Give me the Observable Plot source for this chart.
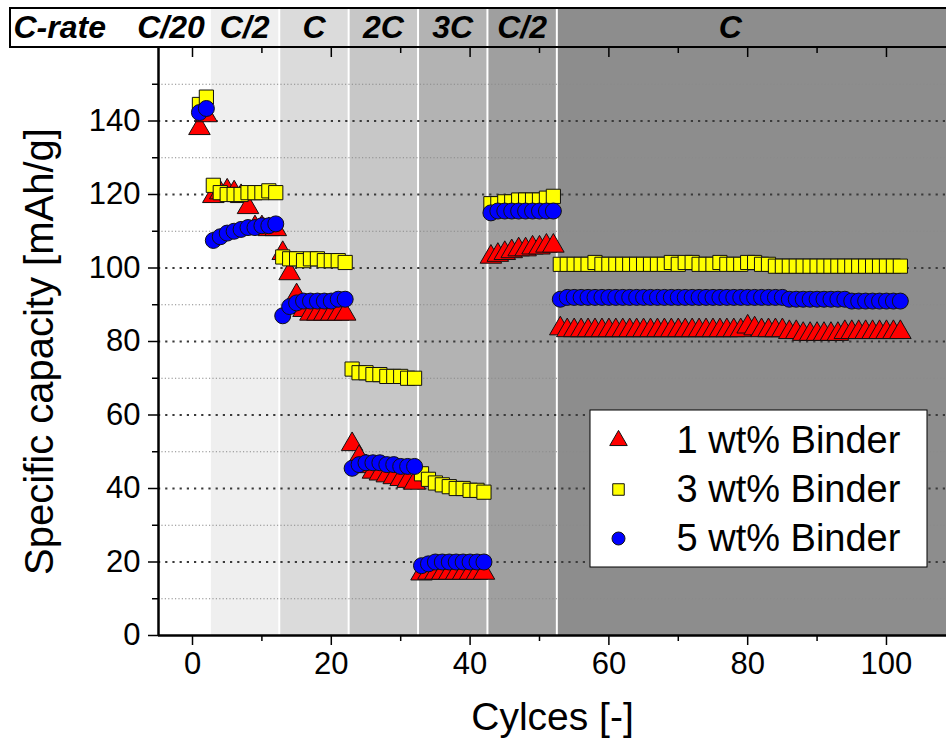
<!DOCTYPE html>
<html><head><meta charset="utf-8">
<script src="https://cdn.jsdelivr.net/npm/d3@7"></script>
<script src="https://cdn.jsdelivr.net/npm/@observablehq/plot@0.6"></script>
<style>
html,body{margin:0;padding:0;background:#fff;overflow:hidden;}
</style></head><body><div id="chart"></div>
<script>
// ---------- data ----------
const cycles = d3.range(1, 103);
const seriesNames = ["1 wt% Binder", "3 wt% Binder", "5 wt% Binder"];
const seriesColors = ["#ff0000", "#ffff00", "#0000ff"];
const seriesSymbols = ["triangle", "square", "circle"];

const binder1 = [
  138, 141.5,
  119.5, 120.5, 121, 120.5, 119.5, 116.5, 111, 111, 110.5, 110.5,
  104, 98.5, 92.5, 88.5, 87.5, 87.5, 87.5, 87.5, 87.5, 87.5,
  52, 48.5, 46, 44.5, 44, 43.5, 43, 42.5, 42, 41.5,
  16.8, 17, 17, 17, 17, 17, 17, 17, 17, 17,
  103, 103.5, 104, 104.5, 105, 105, 105.5, 105.5, 106, 106,
  83.5, 83, 83, 83, 83, 83, 83, 83, 83, 83,
  83, 83, 83, 83, 83, 83, 83, 83, 83, 83,
  83, 83, 83, 83, 83, 83, 83, 84, 83.5, 83,
  83, 83, 83, 82.5, 82.5, 82, 82, 82, 82, 82,
  82, 82.5, 82.5, 82.5, 82.5, 82.5, 82.5, 82.5, 82.5, 82.5
];
const binder3 = [
  144.5, 146.5,
  122.5, 120.5, 120, 120, 120, 120.5, 120.5, 120.5, 121, 120.5,
  103, 102.5, 102.5, 102, 102.5, 102.5, 102, 102, 102, 101.5,
  72.5, 71.5, 71.5, 71, 71, 70.5, 70.5, 70.5, 70, 70,
  44, 42.5, 41.5, 41, 40.5, 40, 40, 39.5, 39.5, 39,
  117.5, 117.5, 118, 118, 118.5, 118.5, 118.5, 118.5, 119, 119.5,
  101, 101, 101, 101, 101, 101.5, 101, 101, 101, 101,
  101, 101, 101, 101, 101, 101, 101.5, 101, 101.5, 101.5,
  101, 101, 101, 101.5, 101, 101, 101, 101.5, 101.5, 101,
  101, 100.5, 100.5, 100.5, 100.5, 100.5, 100.5, 100.5, 100.5, 100.5,
  100.5, 100.5, 100.5, 100.5, 100.5, 100.5, 100.5, 100.5, 100.5, 100.5
];
const binder5 = [
  142.3, 143.4,
  107.5, 108.5, 109.5, 110, 110.5, 111, 111, 111.5, 111.5, 112,
  87, 89.5, 90.5, 91, 91, 91, 91, 91, 91.5, 91.5,
  45.5, 46.5, 47, 47, 47, 46.5, 46.5, 46, 46, 46,
  19, 19.5, 20, 20, 20, 20, 20, 20, 20, 20,
  115, 115.5, 115.5, 115.5, 115.5, 115.5, 115.5, 115.5, 115.5, 115.5,
  91.5, 92, 92, 92, 92, 92, 92, 92, 92, 92,
  92, 92, 92, 92, 92, 92, 92, 92, 92, 92,
  92, 92, 92, 92, 92, 92, 92, 92, 92, 92,
  92, 92, 92, 91.5, 91.5, 91.5, 91.5, 91.5, 91.5, 91.5,
  91.5, 91.5, 91, 91, 91, 91, 91, 91, 91, 91
];
const seriesValues = [binder1, binder3, binder5];

const rateLabels = ["C/20", "C/2", "C", "2C", "3C", "C/2", "C"];
const rateFrom   = [0.5, 2.5, 12.5, 22.5, 32.5, 42.5, 52.5];
const rateTo     = [2.5, 12.5, 22.5, 32.5, 42.5, 52.5, 102.5];
const bandFill   = ["#ffffff", "#efefef", "#dbdbdb", "#c7c7c7", "#b3b3b3", "#9f9f9f", "#8d8d8d"];

const xTicksMajor = [0, 20, 40, 60, 80, 100];
const xTicksMinor = [10, 30, 50, 70, 90];
const yTicksMajor = [0, 20, 40, 60, 80, 100, 120, 140];
const yTicksMinor = [10, 30, 50, 70, 90, 110, 130, 150];

// ---------- layout ----------
const W = 946, H = 747;
const mL = 158, mR = 0, mT = 47, mB = 112;
const xDom = [-4.9, 108.65];
const yDom = [0, 160];
const ix = px => xDom[0] + (px - mL) * (xDom[1] - xDom[0]) / (W - mL - mR);
const iy = py => yDom[0] + (H - mB - py) * (yDom[1] - yDom[0]) / (H - mT - mB);
const headerTop = iy(8), headerLeft = ix(10);
const headerMid = (yDom[1] + headerTop) / 2;

const bands = rateLabels.map((label, i) => ({
  label,
  x1: i === 0 ? xDom[0] : rateFrom[i],
  x2: i === rateLabels.length - 1 ? xDom[1] + 5 : rateTo[i],
  hx1: i === 0 ? headerLeft : rateFrom[i],
  mid: (rateFrom[i] + rateTo[i]) / 2,
  fill: bandFill[i]
}));

const font = "'Liberation Sans', Arial, sans-serif";
const hdr = {fontSize: 32, fontWeight: "bold", fontStyle: "italic", fill: "black", lineAnchor: "middle"};
const marks = [];

// plot background bands
marks.push(Plot.rect(bands, {x1: "x1", x2: "x2", y1: yDom[0], y2: yDom[1], fill: "fill"}));
// header bands
marks.push(Plot.rect(bands, {x1: "hx1", x2: "x2", y1: yDom[1], y2: headerTop, fill: "fill"}));
// white separators
marks.push(Plot.ruleX(rateFrom.slice(1), {y1: yDom[0], y2: headerTop, stroke: "white", strokeWidth: 2}));
// gridlines
marks.push(Plot.ruleY(yTicksMinor, {x1: xDom[0], x2: xDom[1] + 5, stroke: "#8a8a8a", strokeWidth: 1, strokeDasharray: "1.2,2.2"}));
marks.push(Plot.ruleY(yTicksMajor.slice(1), {x1: xDom[0], x2: xDom[1] + 5, stroke: "#3a3a3a", strokeWidth: 2, strokeDasharray: "2.2,5"}));
// header border
marks.push(Plot.rect([0], {x1: headerLeft, x2: xDom[1] + 5, y1: yDom[1], y2: headerTop, fill: "none", stroke: "black", strokeWidth: 2}));
// header texts
marks.push(Plot.text(["C-rate"], {x: headerLeft, y: headerMid, text: d => d, textAnchor: "start", dx: 3, ...hdr}));
marks.push(Plot.text(bands.slice(0, 1), {x: rateTo[0], y: headerMid, text: "label", textAnchor: "end", dx: -5, ...hdr}));
marks.push(Plot.text(bands.slice(1), {x: "mid", y: headerMid, text: "label", ...hdr}));

// data
seriesValues.forEach((vals, s) => {
  const rows = vals.map((v, i) => ({cycle: cycles[i], value: v}));
  marks.push(Plot.dot(rows, {x: "cycle", y: "value", symbol: seriesSymbols[s], r: 8, fill: seriesColors[s], stroke: "#111", strokeWidth: 1}));
});

// axes
marks.push(Plot.axisY(yTicksMajor, {tickSize: 10, tickPadding: 8, fontSize: 31, label: null, strokeWidth: 1.5}));
marks.push(Plot.axisY(yTicksMinor, {tickSize: 6, tickFormat: () => "", label: null, strokeWidth: 1.5}));
marks.push(Plot.axisX(xTicksMajor, {tickSize: 10, tickPadding: 6, fontSize: 31, label: null, strokeWidth: 1.5}));
marks.push(Plot.axisX(xTicksMinor, {tickSize: 6, tickFormat: () => "", label: null, strokeWidth: 1.5}));
// top inward ticks
marks.push(Plot.ruleX(xTicksMajor, {y1: yDom[1], y2: iy(mT + 10), stroke: "black", strokeWidth: 1.5}));
marks.push(Plot.ruleX(xTicksMinor, {y1: yDom[1], y2: iy(mT + 6), stroke: "black", strokeWidth: 1.5}));
// axis lines
marks.push(Plot.ruleX([xDom[0]], {y1: yDom[0], y2: yDom[1], stroke: "black", strokeWidth: 2.5}));
marks.push(Plot.ruleY([yDom[0]], {x1: xDom[0], x2: xDom[1] + 5, stroke: "black", strokeWidth: 2.5}));

// titles
marks.push(Plot.text(["Cylces [-]"], {frameAnchor: "bottom", text: d => d, dy: 82, fontSize: 39, textAnchor: "middle", lineAnchor: "middle", fill: "black"}));
marks.push(Plot.text(["Specific capacity [mAh/g]"], {frameAnchor: "left", text: d => d, rotate: -90, dx: -118, dy: 10, fontSize: 40, textAnchor: "middle", lineAnchor: "middle", fill: "black"}));

// legend
marks.push(Plot.rect([0], {x1: ix(590), x2: ix(927), y1: iy(567), y2: iy(410), fill: "white", stroke: "black", strokeWidth: 1}));
const legendRows = seriesNames.map((name, i) => ({name, i, y: iy(440 + 49 * i)}));
legendRows.forEach(d => {
  marks.push(Plot.dot([d], {x: ix(618), y: "y", symbol: seriesSymbols[d.i], r: 6.5, fill: seriesColors[d.i], stroke: "#111", strokeWidth: 1}));
});
marks.push(Plot.text(legendRows, {x: ix(676), y: "y", text: "name", textAnchor: "start", lineAnchor: "middle", fontSize: 38, fill: "black"}));

const chart = Plot.plot({
  width: W, height: H,
  marginLeft: mL, marginRight: mR, marginTop: mT, marginBottom: mB,
  x: {domain: xDom, axis: null},
  y: {domain: yDom, axis: null},
  style: {fontFamily: font, color: "black", background: "white", overflow: "visible"},
  marks
});
document.getElementById("chart").appendChild(chart);
</script>
</body></html>
